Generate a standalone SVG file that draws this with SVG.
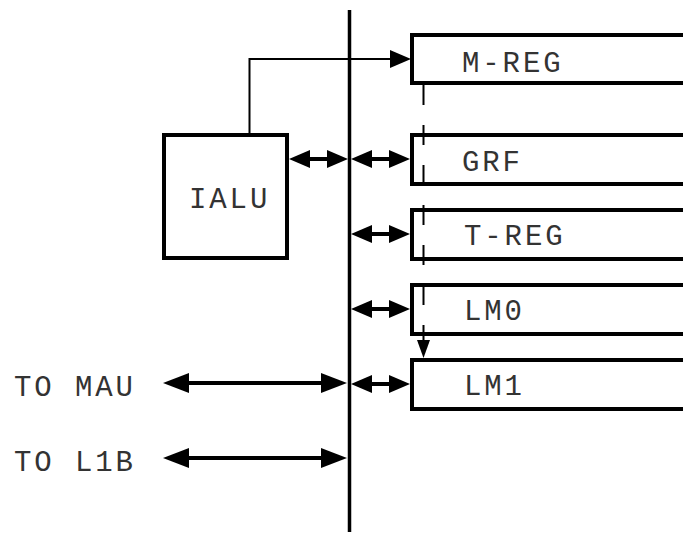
<svg xmlns="http://www.w3.org/2000/svg" width="683" height="535" viewBox="0 0 683 535">
<defs>
<style>
.box{fill:#fff;stroke:#000;stroke-width:4}
.lbl{font-family:"Liberation Mono","Courier New",monospace;font-size:29px;letter-spacing:2.9px;fill:#333}
.conn{fill:none;stroke:#000}
.bus{stroke-width:3.5}
.sh{stroke-width:4;marker-start:url(#ah);marker-end:url(#ah)}
.lg{stroke-width:4;marker-start:url(#ahL);marker-end:url(#ahL)}
.thin{stroke-width:2;marker-end:url(#ah)}
.dash{stroke-width:2;stroke-dasharray:20 20;marker-end:url(#ahS)}
</style>
<marker id="ah" markerUnits="userSpaceOnUse" viewBox="0 0 21 18" markerWidth="21" markerHeight="18" refX="16" refY="9" orient="auto-start-reverse"><path d="M0,0 L21,9 L0,18 z" fill="#000"/></marker>
<marker id="ahL" markerUnits="userSpaceOnUse" viewBox="0 0 26 20" markerWidth="26" markerHeight="20" refX="20" refY="10" orient="auto-start-reverse"><path d="M0,0 L26,10 L0,20 z" fill="#000"/></marker>
<marker id="ahS" markerUnits="userSpaceOnUse" viewBox="0 0 18 13" markerWidth="18" markerHeight="13" refX="14" refY="6.5" orient="auto"><path d="M0,0 L18,6.5 L0,13 z" fill="#000"/></marker>
</defs>
<rect width="683" height="535" fill="#fff"/>

<g id="mreg"><rect class="box" x="412" y="35" width="300" height="48"/><text class="lbl" x="462" y="72">M-REG</text></g>
<g id="grf"><rect class="box" x="412" y="135" width="300" height="49"/><text class="lbl" x="462" y="171">GRF</text></g>
<g id="treg"><rect class="box" x="412" y="210" width="300" height="49"/><text class="lbl" x="464" y="245">T-REG</text></g>
<g id="lm0"><rect class="box" x="412" y="285" width="300" height="49"/><text class="lbl" x="464" y="320">LM0</text></g>
<g id="lm1"><rect class="box" x="412" y="360" width="300" height="49"/><text class="lbl" x="464" y="395">LM1</text></g>
<g id="ialu"><rect class="box" x="164" y="135" width="123" height="123"/><text class="lbl" x="189" y="208">IALU</text></g>
<g id="to-mau"><text class="lbl" x="14" y="396">TO MAU</text></g>
<g id="to-l1b"><text class="lbl" x="14" y="471">TO L1B</text></g>

<g id="connectors">
<line class="conn bus" x1="349.5" y1="10" x2="349.5" y2="532"/>
<path class="conn thin" d="M249.5,133 V59 H406"/>
<line class="conn dash" x1="423.5" y1="85" x2="423.5" y2="354"/>
<line class="conn sh" x1="294" y1="159" x2="343" y2="159"/>
<line class="conn sh" x1="356" y1="159" x2="405" y2="159"/>
<line class="conn sh" x1="356" y1="234" x2="405" y2="234"/>
<line class="conn sh" x1="356" y1="309" x2="405" y2="309"/>
<line class="conn sh" x1="356" y1="384" x2="405" y2="384"/>
<line class="conn lg" x1="169" y1="383" x2="341" y2="383"/>
<line class="conn lg" x1="169" y1="458" x2="341" y2="458"/>
</g>
</svg>
